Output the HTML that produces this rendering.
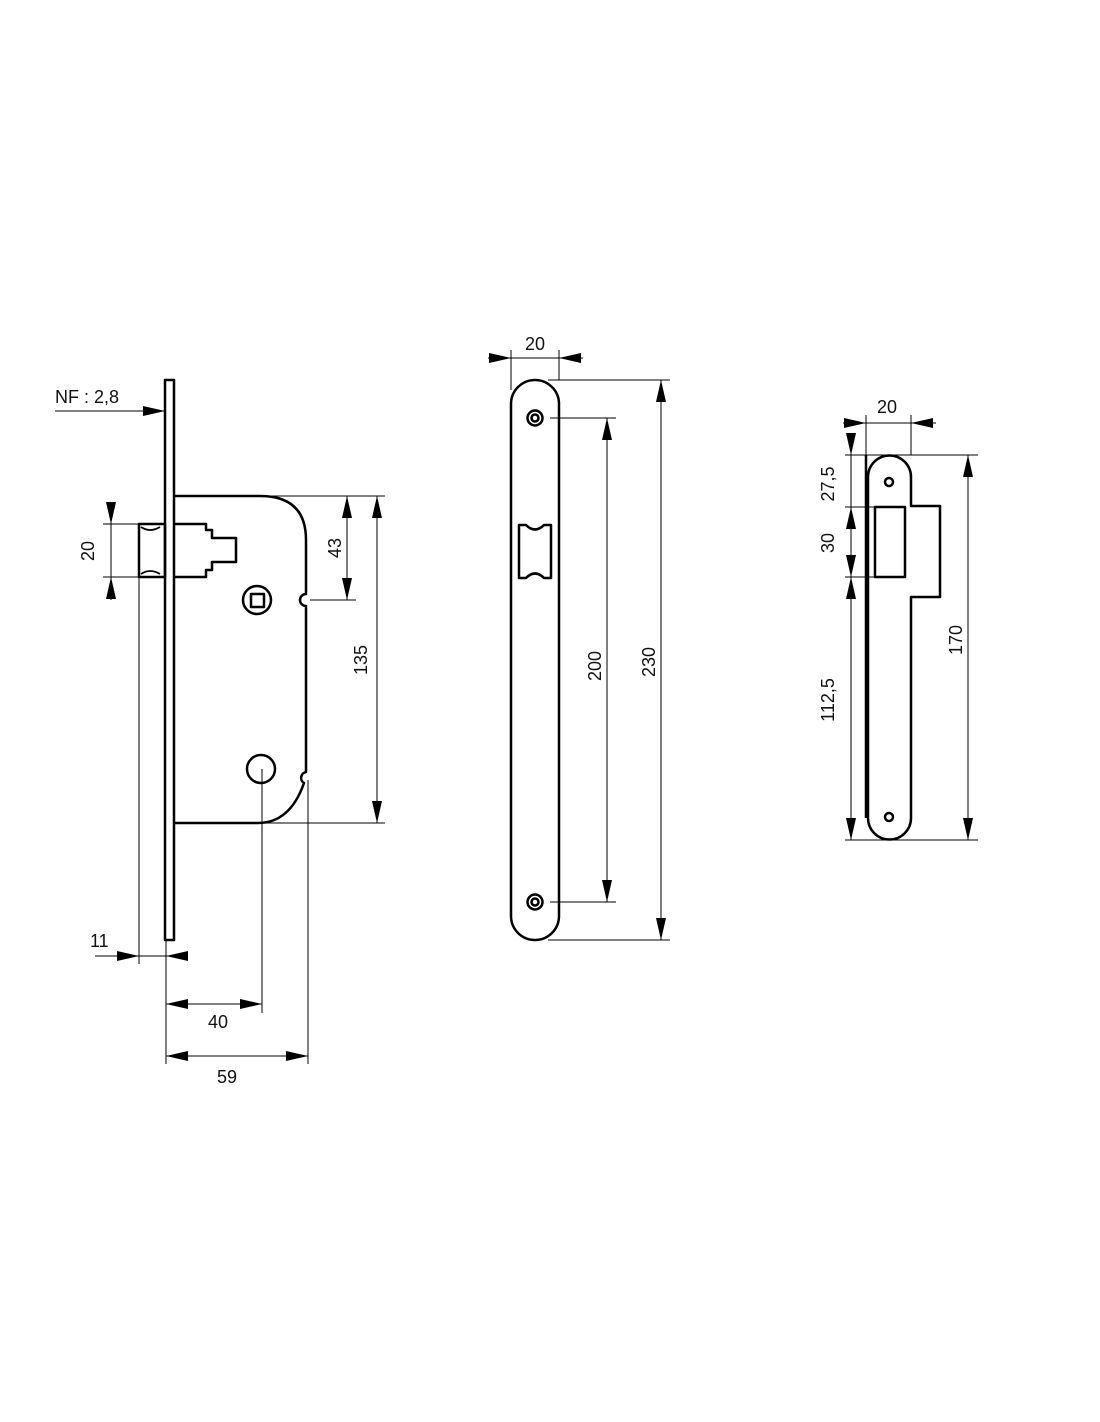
<!DOCTYPE html>
<html><head><meta charset="utf-8"><style>
html,body{margin:0;padding:0;background:#fff}
svg{display:block}
text{font-family:"Liberation Sans",sans-serif;font-size:18px;fill:#111}
</style></head><body>
<svg width="1100" height="1422" viewBox="0 0 1100 1422" xmlns="http://www.w3.org/2000/svg">
<defs>
<marker id="a" markerUnits="userSpaceOnUse" markerWidth="22" markerHeight="10" refX="22" refY="5" orient="auto-start-reverse"><path d="M0,0 L22,5 L0,10 z" fill="#000"/></marker>
</defs>
<g fill="none" stroke="#000" stroke-width="2.5" stroke-linejoin="round">
<rect x="165" y="380" width="9" height="560"/>
<path d="M174,496 L260,496 Q306,496 306,540 L306,594 A6,6 0 0 0 306,606 L306,772 A6,6 0 0 0 304,783 Q290,823 258,823 L174,823"/>
<rect x="139" y="524" width="26" height="53"/>
<path d="M141,527 Q150,533 160,527 M141,574 Q150,568 160,574" stroke-width="1.8"/>
<path d="M174,524 L206,524 L206,530 L212,530 L212,538 L236,538 L236,562 L212,562 L212,570 L206,570 L206,577 L174,577"/>
<circle cx="257" cy="600" r="14"/>
<rect x="251" y="594" width="13" height="13"/>
<circle cx="261" cy="769" r="14"/>
<rect x="511" y="380" width="48" height="560" rx="24" ry="24"/>
<circle cx="535" cy="418" r="7.5"/><circle cx="535" cy="418" r="3.5"/>
<circle cx="535" cy="902" r="7.5"/><circle cx="535" cy="902" r="3.5"/>
<path d="M519,525 L526,525 Q535,534 544,525 L551,525 L551,578 L544,578 Q535,569 526,578 L519,578 Z"/>
<line x1="866" y1="455" x2="866" y2="818"/>
<path d="M868,477 A21,21 0 0 1 911,477 L911,506 L940,506 L940,597 L911,597 L911,818 A21,21 0 0 1 868,818 Z"/>
<rect x="875" y="507" width="30" height="70"/>
<circle cx="889" cy="482" r="4"/><circle cx="889" cy="817" r="4"/>
</g>
<g fill="none" stroke="#000" stroke-width="1">
<line x1="55" y1="411" x2="165" y2="411" marker-end="url(#a)"/>
<line x1="103" y1="524" x2="139" y2="524"/><line x1="103" y1="577" x2="139" y2="577"/>
<line x1="111" y1="502" x2="111" y2="524" marker-end="url(#a)"/>
<line x1="111" y1="524" x2="111" y2="577"/>
<line x1="111" y1="600" x2="111" y2="577" marker-end="url(#a)"/>
<line x1="260" y1="496" x2="385" y2="496"/>
<line x1="310" y1="600" x2="356" y2="600"/>
<line x1="347" y1="496" x2="347" y2="600" marker-start="url(#a)" marker-end="url(#a)"/>
<line x1="258" y1="823" x2="385" y2="823"/>
<line x1="377" y1="496" x2="377" y2="823" marker-start="url(#a)" marker-end="url(#a)"/>
<line x1="139" y1="577" x2="139" y2="964"/>
<line x1="166" y1="940" x2="166" y2="1064"/>
<line x1="95" y1="956" x2="139" y2="956" marker-end="url(#a)"/>
<line x1="139" y1="956" x2="166" y2="956"/>
<line x1="188" y1="956" x2="166" y2="956" marker-end="url(#a)"/>
<line x1="262" y1="769" x2="262" y2="1013"/>
<line x1="308" y1="780" x2="308" y2="1064"/>
<line x1="166" y1="1004" x2="262" y2="1004" marker-start="url(#a)" marker-end="url(#a)"/>
<line x1="166" y1="1056" x2="308" y2="1056" marker-start="url(#a)" marker-end="url(#a)"/>
<line x1="511" y1="350" x2="511" y2="390"/><line x1="559" y1="350" x2="559" y2="380"/>
<line x1="488" y1="358" x2="511" y2="358" marker-end="url(#a)"/>
<line x1="511" y1="358" x2="559" y2="358"/>
<line x1="583" y1="358" x2="559" y2="358" marker-end="url(#a)"/>
<line x1="548" y1="380" x2="670" y2="380"/>
<line x1="550" y1="418" x2="616" y2="418"/>
<line x1="550" y1="902" x2="616" y2="902"/>
<line x1="548" y1="940" x2="670" y2="940"/>
<line x1="607" y1="418" x2="607" y2="902" marker-start="url(#a)" marker-end="url(#a)"/>
<line x1="661" y1="380" x2="661" y2="940" marker-start="url(#a)" marker-end="url(#a)"/>
<line x1="866" y1="415" x2="866" y2="455"/><line x1="911" y1="415" x2="911" y2="455"/>
<line x1="843" y1="423" x2="866" y2="423" marker-end="url(#a)"/>
<line x1="866" y1="423" x2="911" y2="423"/>
<line x1="936" y1="423" x2="911" y2="423" marker-end="url(#a)"/>
<line x1="845" y1="455" x2="978" y2="455"/>
<line x1="845" y1="507" x2="875" y2="507"/>
<line x1="845" y1="577" x2="875" y2="577"/>
<line x1="845" y1="840" x2="978" y2="840"/>
<line x1="851" y1="433" x2="851" y2="455" marker-end="url(#a)"/>
<line x1="851" y1="455" x2="851" y2="840"/>
<line x1="851" y1="507" x2="851" y2="530" marker-start="url(#a)"/>
<line x1="851" y1="555" x2="851" y2="577" marker-end="url(#a)"/>
<line x1="851" y1="577" x2="851" y2="840" marker-start="url(#a)" marker-end="url(#a)"/>
<line x1="968" y1="455" x2="968" y2="840" marker-start="url(#a)" marker-end="url(#a)"/>
</g>
<text x="55" y="403">NF : 2,8</text>
<text transform="translate(94,551) rotate(-90)" text-anchor="middle">20</text>
<text transform="translate(341,548) rotate(-90)" text-anchor="middle">43</text>
<text transform="translate(367,660) rotate(-90)" text-anchor="middle">135</text>
<text x="90" y="947">11</text>
<text x="218" y="1028" text-anchor="middle">40</text>
<text x="227" y="1083" text-anchor="middle">59</text>
<text x="535" y="350" text-anchor="middle">20</text>
<text transform="translate(601,666) rotate(-90)" text-anchor="middle">200</text>
<text transform="translate(655,662) rotate(-90)" text-anchor="middle">230</text>
<text x="887" y="413" text-anchor="middle">20</text>
<text transform="translate(834,484) rotate(-90)" text-anchor="middle">27,5</text>
<text transform="translate(834,543) rotate(-90)" text-anchor="middle">30</text>
<text transform="translate(834,700) rotate(-90)" text-anchor="middle">112,5</text>
<text transform="translate(962,640) rotate(-90)" text-anchor="middle">170</text>
</svg>
</body></html>
